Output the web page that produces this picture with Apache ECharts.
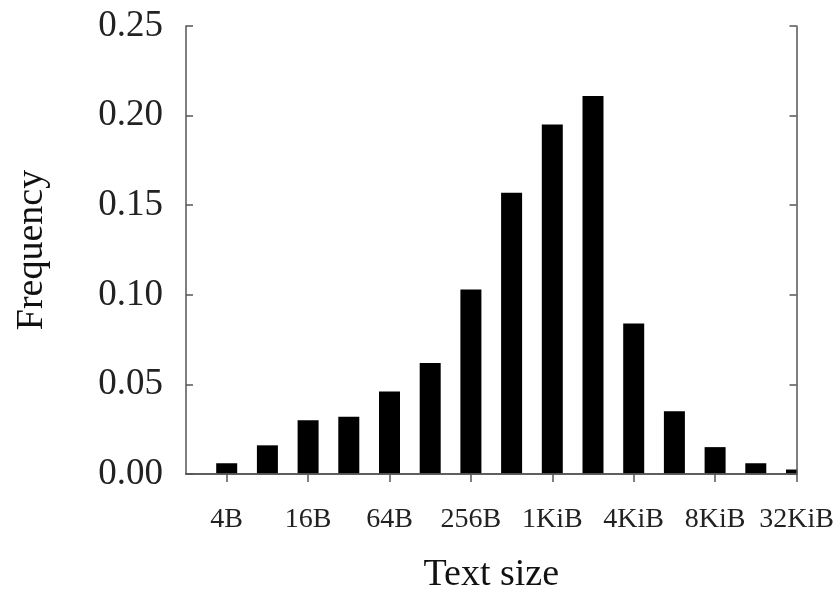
<!DOCTYPE html>
<html>
<head>
<meta charset="utf-8">
<script src="https://cdn.jsdelivr.net/npm/echarts@6/dist/echarts.min.js"></script>
<style>
  html, body { margin: 0; padding: 0; background: #ffffff; }
  #chart { width: 839px; height: 589px; }
</style>
</head>
<body>
<div id="chart"></div>
<script>
// Size bins (log2 scale); index 0 is the empty left edge of the plot
const categories = ['2B', '4B', '8B', '16B', '32B', '64B', '128B', '256B', '512B',
                    '1KiB', '2KiB', '4KiB', '8KiB', '16KiB', '32KiB', '64KiB'];
// Frequency per bin (null = no bar)
const frequency = [null, 0.006, 0.016, 0.030, 0.032, 0.046, 0.062, 0.103, 0.157,
                   0.195, 0.211, 0.084, 0.035, 0.015, 0.006, 0.0025];
// Tick labels as printed under every second bin (indexes 1,3,5,...)
const tickLabels = ['4B', '16B', '64B', '256B', '1KiB', '4KiB', '8KiB', '32KiB'];
const yTicks = [0, 0.05, 0.10, 0.15, 0.20, 0.25];

const FONT = 'Liberation Serif';
const LINE = '#555555';
const W = 839, H = 589;
const GRID = { left: 186, right: 42.5, top: 26, bottom: 115 };

const chart = echarts.init(document.getElementById('chart'), null, { renderer: 'canvas' });
const isTick = (i) => i % 2 === 1;

chart.setOption({
  backgroundColor: '#ffffff',
  animation: false,
  grid: Object.assign({ containLabel: false, outerBoundsMode: 'none' }, GRID),
  // mask so the half bar at the right frame is cut off at the frame, as in the original
  graphic: [{
    type: 'rect',
    z: 5,
    silent: true,
    shape: { x: W - GRID.right + 0.8, y: 0, width: GRID.right, height: H - GRID.bottom },
    style: { fill: '#ffffff' }
  }],
  xAxis: [
    {
      type: 'category',
      data: categories,
      boundaryGap: false,
      position: 'bottom',
      z: 10,
      name: 'Text size',
      nameLocation: 'middle',
      nameGap: 82,
      nameTextStyle: { fontFamily: FONT, fontSize: 38, color: '#111' },
      axisLine: { lineStyle: { color: LINE, width: 1.5 } },
      axisTick: { show: true, inside: false, length: 8, interval: (i) => isTick(i),
                  lineStyle: { color: LINE, width: 1.5 } },
      axisLabel: {
        interval: (i) => isTick(i),
        margin: 32,
        fontFamily: FONT, fontSize: 28, color: '#222',
        formatter: (v, i) => isTick(i) ? tickLabels[(i - 1) / 2] : ''
      },
      splitLine: { show: false }
    },
    {
      type: 'category',
      data: categories,
      boundaryGap: false,
      position: 'top',
      z: 10,
      axisLine: { show: true, lineStyle: { color: LINE, width: 1.5 } },
      axisTick: { show: false },
      axisLabel: { show: false },
      splitLine: { show: false }
    }
  ],
  yAxis: [
    {
      type: 'value',
      min: yTicks[0],
      max: yTicks[yTicks.length - 1],
      interval: 0.05,
      position: 'left',
      z: 10,
      name: 'Frequency',
      nameLocation: 'middle',
      nameGap: 135,
      nameRotate: 90,
      nameTextStyle: { fontFamily: FONT, fontSize: 38, color: '#111' },
      axisLine: { show: true, lineStyle: { color: LINE, width: 1.5 } },
      axisTick: { show: true, inside: true, length: 7, lineStyle: { color: LINE, width: 1.5 } },
      axisLabel: {
        margin: 23,
        fontFamily: FONT, fontSize: 37, color: '#222',
        formatter: (v) => v.toFixed(2)
      },
      splitLine: { show: false }
    },
    {
      type: 'value',
      min: yTicks[0],
      max: yTicks[yTicks.length - 1],
      interval: 0.05,
      position: 'right',
      z: 10,
      axisLine: { show: true, lineStyle: { color: LINE, width: 1.5 } },
      axisTick: { show: true, inside: true, length: 7, lineStyle: { color: LINE, width: 1.5 } },
      axisLabel: { show: false },
      splitLine: { show: false }
    }
  ],
  series: [
    {
      type: 'bar',
      xAxisIndex: 0,
      yAxisIndex: 0,
      z: 2,
      data: frequency,
      barWidth: 21,
      clip: true,
      itemStyle: { color: '#000000' }
    }
  ]
});
</script>
</body>
</html>
